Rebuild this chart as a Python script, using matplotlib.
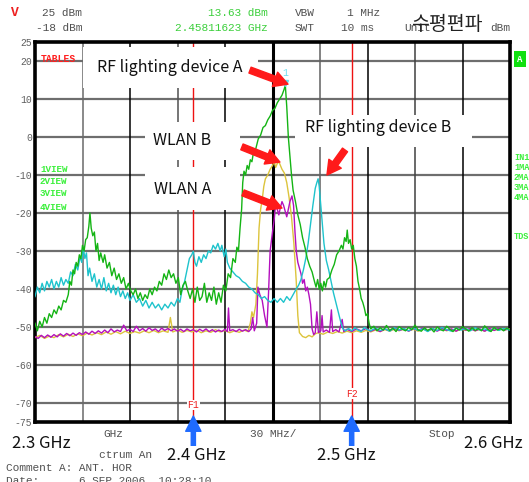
import matplotlib
matplotlib.use("Agg")
import matplotlib.pyplot as plt
from matplotlib.patches import Rectangle

plt.rcParams['font.family'] = ['Noto Sans CJK KR', 'DejaVu Sans']
plt.rcParams['axes.unicode_minus'] = False

# sweep 2.3 - 2.6 GHz (MHz), level in dBm
green = [(2300, -49), (2301.5, -51), (2303, -48.5), (2304.5, -50), (2306, -47.5), (2307.5, -49), (2309, -46.5),
         (2310.5, -47.5), (2312, -45.5), (2313.5, -46.5), (2315, -44.5), (2316.5, -45.5), (2318, -43), (2319.5, -43.5),
         (2321, -41.5), (2322, -38), (2323, -39), (2324, -35), (2325, -36), (2326, -33), (2327, -34), (2328, -31),
         (2329, -32), (2330, -28.5), (2331, -30), (2332, -27), (2333, -26.5), (2334, -23.5), (2334.7, -20),
         (2335.5, -24), (2336.5, -26), (2337.5, -25), (2338.5, -30), (2339.5, -28), (2340.5, -32.5), (2341.5, -30.5),
         (2343, -33), (2344, -31), (2345.5, -34.5), (2347, -33), (2348.5, -36.5), (2350, -34.5), (2351.5, -37.5),
         (2353, -36), (2354.5, -38.5), (2356, -37), (2357.5, -40), (2359, -38.5), (2360.5, -40.5), (2362, -41.5),
         (2363.5, -40), (2365, -42.5), (2366.5, -41), (2368, -43), (2369.5, -41.5), (2371, -42.5), (2372.5, -40),
         (2374, -41.5), (2375.5, -39.5), (2377, -40.5), (2378.5, -38), (2380, -39), (2381.5, -36), (2383, -37.5),
         (2384.5, -35), (2386, -37), (2387.5, -36), (2389, -38.5), (2390.5, -37), (2392, -41.5), (2393.5, -39),
         (2395, -38), (2396.5, -40.5), (2398, -42.5), (2399.5, -40), (2401, -43.5), (2402.5, -39.5), (2404, -43),
         (2405.5, -42), (2407, -38.5), (2408.5, -43.5), (2410, -41), (2411.5, -43), (2413, -39.5), (2414.5, -44),
         (2416, -41), (2417.5, -43.5), (2419, -39), (2420.5, -40.5), (2422, -36), (2423.5, -37), (2425, -32),
         (2426.5, -33), (2427.5, -29), (2428.5, -30), (2429.5, -24), (2430.5, -19), (2431.2, -12), (2432, -9),
         (2433, -10), (2434, -7.5), (2435, -8.5), (2436, -6), (2437, -6.5), (2438, -4), (2439.5, -3), (2441, -0.5),
         (2442.5, 0.5), (2444, 2.5), (2445.5, 3), (2447, 4.5), (2448.5, 5.5), (2450, 7), (2451.5, 7.5), (2453, 9),
         (2454.5, 10), (2456, 11), (2457.3, 12.5), (2458.1, 13.6), (2459, 8), (2460, 0), (2461, -5), (2462, -10),
         (2463, -14), (2464.5, -17), (2466, -20.5), (2467.5, -23), (2469, -26.5), (2470.5, -29), (2472, -32),
         (2473.5, -34), (2475, -35.5), (2476.5, -38), (2477.5, -39.5), (2478.5, -37.5), (2479.5, -40), (2480.5, -38.5),
         (2481.5, -40.5), (2482.5, -38), (2483.5, -39.5), (2484.5, -37.5), (2486, -37), (2487.5, -35), (2489, -33.5),
         (2490.5, -31), (2492, -30), (2493.5, -28.5), (2494.5, -29.5), (2495.5, -26.5), (2496.5, -27.5),
         (2497.2, -24.5), (2498, -28), (2499, -27), (2500, -29.5), (2501, -28.5), (2502, -32), (2503, -34),
         (2504, -38), (2505, -40), (2506, -42.5), (2507, -43.5), (2508, -45), (2509, -47), (2510, -46.5),
         (2511, -49), (2512, -50.5), (2514, -49.8), (2516, -51), (2518, -50.2), (2520, -50.8), (2522, -49.6),
         (2524, -50.9), (2526, -50.3), (2528, -51.2), (2530, -49.9), (2532, -50.6), (2534, -51), (2536, -50.1),
         (2538, -50.7), (2540, -49.5), (2542, -50.8), (2544, -51.1), (2546, -50.2), (2548, -50.9), (2550, -50.4),
         (2552, -51.3), (2554, -50), (2556, -50.7), (2558, -51), (2560, -49.8), (2562, -50.6), (2564, -51.2),
         (2566, -50.3), (2568, -50.8), (2570, -49.9), (2572, -50.5), (2574, -51.1), (2576, -50.2), (2578, -50.9),
         (2580, -50.4), (2582, -51), (2584, -49.7), (2586, -50.6), (2588, -51.2), (2590, -50.1), (2592, -50.8),
         (2594, -50.4), (2596, -51), (2598, -50.3), (2600, -50.7)]

cyan = [(2300, -42), (2301.5, -39.5), (2303, -41), (2304.5, -38.5), (2306, -40.5), (2307.5, -38), (2309, -39.5),
        (2310.5, -37.5), (2312, -40), (2313.5, -38), (2315, -39.5), (2316.5, -37), (2318, -39), (2319.5, -37.5),
        (2321, -38.5), (2322.5, -35.5), (2324, -36.5), (2325.5, -33.5), (2327, -35), (2328.5, -31.5), (2329.5, -33),
        (2330.5, -29), (2331.5, -32), (2332.5, -30.5), (2333.5, -36.5), (2334.5, -34.5), (2336, -38), (2337.5, -36),
        (2339, -39.5), (2340.5, -37.5), (2342, -40), (2343.5, -37), (2345, -40.5), (2346.5, -38.5), (2348, -41),
        (2349.5, -39), (2351, -41.5), (2352.5, -39.5), (2354, -42), (2355.5, -40.5), (2357, -42.5), (2358.5, -41),
        (2360, -43), (2362, -41.5), (2364, -43.5), (2366, -42.5), (2368, -44.5), (2370, -43), (2372, -45),
        (2374, -43.5), (2376, -45), (2378, -44), (2380, -45.5), (2382, -44), (2384, -45), (2386, -43.5),
        (2388, -44.5), (2390, -42.5), (2391.5, -43.5), (2393, -40), (2394.5, -38), (2396, -35), (2397.5, -32),
        (2399, -31), (2400, -30), (2401, -33), (2402, -34), (2403.5, -31.5), (2405, -33), (2406.5, -31), (2408, -32),
        (2409.5, -30), (2411, -30.5), (2412.5, -28.5), (2414, -29.5), (2415.5, -28), (2417, -30), (2418, -28.5),
        (2419.5, -31.5), (2420.5, -29.5), (2421.5, -33), (2423, -34.5), (2425, -35.5), (2427, -36.5), (2429, -37),
        (2431, -38), (2433, -38.5), (2435, -39.5), (2437, -40), (2439, -41), (2441, -41.5), (2443, -42.5),
        (2445, -42), (2447, -43), (2449, -43.5), (2451, -42.5), (2453, -43.5), (2455, -42.5), (2457, -43.5),
        (2459, -42), (2461, -43), (2463, -41.5), (2465, -40), (2466.5, -39), (2468, -37.5), (2469.5, -35),
        (2471, -32), (2472.5, -28), (2474, -23), (2475.5, -18), (2477, -13.5), (2478, -12), (2478.8, -11),
        (2479.5, -13), (2480.5, -18), (2481.5, -23), (2482.5, -28), (2484, -32.5), (2485.5, -35), (2487, -38),
        (2488.5, -41), (2490, -43.5), (2491.5, -46), (2493, -48.5), (2494.5, -50.5), (2496, -51), (2498, -50.4),
        (2500, -51), (2502, -50.2), (2504, -50.8), (2506, -51.2), (2508, -50.1), (2510, -50.7), (2512, -51),
        (2515, -50.3), (2518, -50.9), (2521, -50.5), (2524, -51.1), (2527, -50.2), (2530, -50.8), (2533, -50.4),
        (2536, -51), (2539, -50.3), (2542, -50.9), (2545, -50.5), (2548, -51.2), (2551, -50.4), (2554, -50.9),
        (2557, -50.1), (2560, -50.7), (2563, -51.1), (2566, -50.3), (2569, -50.8), (2572, -50.4), (2575, -51),
        (2578, -50.2), (2581, -50.8), (2584, -50.5), (2587, -51.1), (2590, -50.3), (2593, -50.9), (2596, -50.4),
        (2600, -50.8)]

yellow = [(2300, -52.8), (2303, -52.2), (2306, -53), (2309, -52.4), (2312, -52.8), (2315, -52), (2318, -52.6),
          (2321, -51.9), (2324, -52.5), (2327, -51.8), (2330, -52.3), (2333, -51.6), (2336, -52.1), (2339, -51.5),
          (2342, -52), (2345, -51.3), (2348, -51.9), (2351, -51.2), (2354, -51.8), (2357, -51.1), (2360, -51.7),
          (2363, -51.2), (2366, -51.6), (2369, -51), (2372, -51.5), (2375, -50.9), (2378, -51.5), (2381, -51),
          (2384, -51.4), (2385.5, -47.5), (2387, -51.3), (2390, -50.8), (2393, -51.4), (2396, -50.9), (2399, -51.3),
          (2402, -50.8), (2405, -51.5), (2408, -51), (2411, -51.4), (2414, -50.7), (2417, -51.3), (2420, -50.9),
          (2423, -51.5), (2426, -51), (2429, -51.4), (2432, -50.8), (2434.5, -51.2), (2436, -49), (2437, -46),
          (2438, -47.5), (2439.5, -44), (2440.5, -36), (2441.5, -24), (2442.5, -19), (2443.5, -16.5), (2444.5, -13),
          (2445.5, -11), (2447, -10), (2448.5, -8.5), (2450, -7.5), (2451, -6.5), (2452, -8), (2453, -7),
          (2454, -6.5), (2455, -7.5), (2456, -8.5), (2457.5, -9.5), (2459, -12), (2460.5, -16), (2462, -21),
          (2463.5, -28), (2465, -38), (2466, -47), (2467, -51.5), (2469, -52.5), (2471, -52.8), (2473, -52.2),
          (2475, -52.6), (2477, -51.8), (2479, -51.5), (2482, -51.9), (2485, -51.3), (2488, -51.7), (2491, -51.2),
          (2494, -51.6), (2497, -51.1), (2500, -51.5), (2503, -51), (2506, -51.4), (2509, -50.9), (2512, -51.3),
          (2515, -50.8), (2518, -51.2), (2521, -50.7), (2524, -51.1), (2527, -50.6), (2530, -51), (2533, -50.5),
          (2536, -51), (2539, -50.6), (2542, -51.1), (2545, -50.5), (2548, -51), (2551, -50.4), (2554, -50.9),
          (2557, -50.5), (2560, -51), (2563, -50.6), (2566, -51.1), (2569, -50.5), (2572, -50.9), (2575, -50.4),
          (2578, -51), (2581, -50.6), (2584, -51.1), (2587, -50.5), (2590, -50.9), (2593, -50.4), (2596, -50.8),
          (2600, -50.5)]

magenta = [(2300, -52.5), (2302, -53), (2304, -52.2), (2306, -52.8), (2308, -52.1), (2310, -52.7), (2312, -52),
           (2314, -52.6), (2316, -51.8), (2318, -52.4), (2320, -51.7), (2322, -52.3), (2324, -51.6), (2326, -52.2),
           (2328, -51.5), (2330, -52), (2332, -51.3), (2334, -51.9), (2336, -51.1), (2338, -51.7), (2340, -51),
           (2342, -51.6), (2344, -50.8), (2346, -51.5), (2348, -50.5), (2350, -51.3), (2352, -50.8), (2354, -51.2),
           (2356, -49.5), (2358, -51), (2360, -50.6), (2362, -51.2), (2364, -49.8), (2366, -51), (2368, -50.4),
           (2370, -51.1), (2372, -50.2), (2374, -50.9), (2376, -50.5), (2378, -51.2), (2380, -50.3), (2382, -50.9),
           (2384, -50.4), (2386, -51), (2388, -50.5), (2390, -51.1), (2392, -50.6), (2394, -51.2), (2396, -50.5),
           (2398, -51), (2400, -50.7), (2402, -51.3), (2404, -50.6), (2406, -51.1), (2408, -50.5), (2410, -51.2),
           (2412, -50.7), (2414, -51.3), (2416, -50.8), (2418, -51.2), (2420, -50.6), (2421.5, -51.2),
           (2422.2, -45), (2423, -51), (2425, -50.7), (2427, -51.2), (2429, -50.6), (2431, -51.1), (2433, -50.7),
           (2435, -51.2), (2436.5, -50.5), (2437.5, -47.5), (2438.5, -51), (2440, -49), (2440.8, -39.5),
           (2442, -41.5), (2443.5, -43), (2445, -47), (2446.5, -50), (2447.5, -41), (2448.5, -30), (2450, -25),
           (2451, -22), (2452, -17.5), (2453, -19), (2454, -20.5), (2455, -18.5), (2456, -17), (2457, -18),
           (2458, -19.5), (2459, -21), (2460, -19), (2461, -17), (2462.3, -15.5), (2463.3, -18), (2464.2, -25),
           (2465, -30), (2466, -33), (2467, -34.5), (2468, -36), (2469, -38.5), (2470, -37.5), (2471, -40.5),
           (2472, -39.5), (2473, -41.5), (2474, -44), (2475, -50.5), (2476, -52), (2477, -51.5), (2478, -46),
           (2479, -51.5), (2480.5, -51), (2481.3, -47), (2482, -51.3), (2484, -50.8), (2486, -51.4), (2487.2, -45.5),
           (2488, -51.2), (2490, -50.7), (2492, -51.3), (2494, -48), (2495, -51.2), (2497, -50.6), (2500, -51.2),
           (2503, -50.5), (2506, -51), (2509, -50.4), (2512, -51.1), (2515, -50.6), (2518, -51.2), (2521, -50.5),
           (2524, -51), (2527, -50.3), (2530, -50.9), (2533, -50.5), (2536, -51.1), (2539, -50.4), (2542, -50.9),
           (2545, -50.3), (2548, -51), (2551, -50.5), (2554, -51.1), (2557, -50.4), (2560, -50.9), (2563, -50.5),
           (2566, -51.1), (2569, -50.3), (2572, -50.8), (2575, -50.4), (2578, -51), (2581, -50.5), (2584, -51.1),
           (2587, -50.4), (2590, -50.9), (2593, -50.3), (2596, -50.8), (2600, -50.5)]

traces = [(yellow, '#dcc43c'), (magenta, '#b40fbe'), (cyan, '#1ec3cc'), (green, '#14b414')]

peak = (2458.1, 13.6)
markers_f = [2400, 2500]
marker_names = ['F1', 'F2']
marker_label_db = [-70.5, -67.6]
ytick_vals = [25, 20, 10, 0, -10, -20, -30, -40, -50, -60, -70, -75]
hgrid = [20, 10, 0, -10, -20, -30, -40, -50, -60, -70]
vgrid = [2330, 2360, 2390, 2420, 2450, 2480, 2510, 2540, 2570]
vgrid_col = ['#6a6a6a', 'black', '#505050', 'black', 'black', '#606060', 'black', '#404040', 'black']

# (text, x, y) for the callouts, arrow (tail -> head) in data units
callouts = [("RF lighting device A", 2385.0, 18.2, (2435.8, 17.6), (2459.8, 13.9)),
            ("WLAN B", 2393.0, -0.8, (2430.7, -2.6), (2454.7, -6.6)),
            ("WLAN A", 2393.0, -13.9, (2431.4, -14.7), (2456.0, -18.7)),
            ("RF lighting device B", 2517.0, 2.4, (2495.8, -3.4), (2484.4, -10.0))]

W, H = 529, 482
fig = plt.figure(figsize=(W / 100, H / 100), dpi=100)
ax = fig.add_axes([35 / W, 1 - 422 / H, 475 / W, 380 / H])
ax.set_xlim(2300, 2600)
ax.set_ylim(-75, 25)


def fx(px):
    return px / W


def fy(py):
    return 1 - py / H


mono = 'Liberation Mono'

for v in hgrid:
    ax.axhline(v, color='#6e6e6e', lw=1.6, zorder=1)
for v, c in zip(vgrid, vgrid_col):
    ax.axvline(v, color=c, lw=2.2 if v == 2450 else 1.1, zorder=1)
for f in markers_f:
    ax.axvline(f, color='#ee1111', lw=1, zorder=2)

for data, col in traces:
    ax.plot([p[0] for p in data], [p[1] for p in data], color=col, lw=1.0, zorder=3)

ax.plot([peak[0]], [peak[1] + 0.6], marker='v', ms=5, color='#5fe0f0', zorder=4)
ax.annotate('1', xy=peak, xytext=(0, 9), textcoords='offset points', ha='center', va='center',
            color='#6fe0f0', fontsize=7, family=mono)

for f, name, yv in zip(markers_f, marker_names, marker_label_db):
    ax.text(f, yv, name, ha='center', va='center', color='#ee2222', fontsize=7, family=mono,
            bbox=dict(facecolor='white', edgecolor='none', pad=0.3), zorder=4)

ax.set_xticks([])
ax.set_yticks(ytick_vals)
ax.set_yticklabels([str(v) for v in ytick_vals], family=mono)
ax.tick_params(axis='y', length=0, pad=2, labelsize=7, labelcolor='#606060')
for s in ax.spines.values():
    s.set_linewidth(2.6)
    s.set_color('black')

# white label boxes (axes fraction)
boxes = [(0.101, 0.879, 0.368, 0.108), (0.232, 0.689, 0.200, 0.100),
         (0.232, 0.558, 0.200, 0.113), (0.547, 0.724, 0.373, 0.084)]
for x0, y0, w, h in boxes:
    ax.add_patch(Rectangle((x0, y0), w, h, transform=ax.transAxes, facecolor='white',
                           edgecolor='none', zorder=5))

for text, tx, ty, tail, head in callouts:
    ax.text(tx, ty, text, ha='center', va='center', fontsize=11.5, color='#111111', zorder=6)
    ax.annotate('', xy=head, xytext=tail, zorder=7, annotation_clip=False,
                arrowprops=dict(facecolor='#ff1a1a', edgecolor='#ff1a1a', width=4.5,
                                headwidth=11, headlength=10, shrink=0))

# instrument side labels
ax.text(0.012, 0.955, 'TABLES', transform=ax.transAxes, color='#ff2020', fontsize=7, family=mono,
        fontweight='bold', va='center', zorder=4)
for i, lbl in enumerate(['1VIEW', '2VIEW', '3VIEW', '4VIEW']):
    fig.text(fx(40), fy([169, 182, 194, 207][i]), lbl, color='#3cf03c', fontsize=6.7, family=mono,
             fontweight='bold', va='center')
for lbl, py in zip(['IN1', '1MA', '2MA', '3MA', '4MA', 'TDS'], [157, 167, 177, 187, 197, 236]):
    fig.text(fx(514), fy(py), lbl, color='#3cf03c', fontsize=6.2, family=mono, fontweight='bold', va='center')
fig.text(fx(520), fy(59), 'A', color='white', fontsize=6.5, family=mono, fontweight='bold',
         ha='center', va='center', bbox=dict(facecolor='#10e010', edgecolor='none', pad=2.5))

# header
gray = '#505050'
fig.text(fx(10), fy(12), 'V', color='#ee2020', fontsize=9, fontweight='bold', va='center')
fig.text(fx(82), fy(13), '25 dBm', color=gray, fontsize=8, family=mono, ha='right', va='center')
fig.text(fx(82), fy(28), '-18 dBm', color=gray, fontsize=8, family=mono, ha='right', va='center')
fig.text(fx(268), fy(13), '13.63 dBm', color='#3ccf3c', fontsize=8, family=mono, ha='right', va='center')
fig.text(fx(268), fy(28), '2.45811623 GHz', color='#3ccf3c', fontsize=8, family=mono, ha='right', va='center')
fig.text(fx(295), fy(13), 'VBW', color=gray, fontsize=8, family=mono, va='center')
fig.text(fx(295), fy(28), 'SWT', color=gray, fontsize=8, family=mono, va='center')
fig.text(fx(380), fy(13), '1 MHz', color=gray, fontsize=8, family=mono, ha='right', va='center')
fig.text(fx(374), fy(28), '10 ms', color=gray, fontsize=8, family=mono, ha='right', va='center')
fig.text(fx(404), fy(28), 'Unit', color=gray, fontsize=8, family=mono, va='center')
fig.text(fx(490), fy(28), 'dBm', color=gray, fontsize=8, family=mono, va='center')
fig.text(fx(447), fy(24), '수평편파', color='#222222', fontsize=14, ha='center', va='center')

# footer
fig.text(fx(103), fy(434), 'GHz', color=gray, fontsize=8, family=mono, va='center')
fig.text(fx(250), fy(434), '30 MHz/', color=gray, fontsize=8, family=mono, va='center')
fig.text(fx(429), fy(434), 'Stop', color=gray, fontsize=8, family=mono, va='center')
fig.text(fx(99), fy(455), 'ctrum An', color=gray, fontsize=8, family=mono, va='center')
fig.text(fx(6), fy(468), 'Comment A: ANT. HOR', color=gray, fontsize=8, family=mono, va='center')
fig.text(fx(6), fy(481), 'Date:      6.SEP.2006  10:28:10', color=gray, fontsize=8, family=mono, va='center')

for lbl, px, py in [('2.3 GHz', 41, 443), ('2.6 GHz', 493, 443)]:
    fig.text(fx(px), fy(py), lbl, fontsize=12, color='#111111', ha='center', va='center')
for lbl, f, px in [('2.4 GHz', 2400, 196), ('2.5 GHz', 2500, 346)]:
    fig.text(fx(px), fy(455), lbl, fontsize=12, color='#111111', ha='center', va='center',
             bbox=dict(facecolor='white', edgecolor='none', pad=0.5))
    ax.annotate('', xy=(f, (422 - 416) / 380), xytext=(f, (422 - 446) / 380),
                xycoords=('data', 'axes fraction'), textcoords=('data', 'axes fraction'),
                annotation_clip=False,
                arrowprops=dict(facecolor='#1f6bff', edgecolor='#1f6bff', width=3,
                                headwidth=11, headlength=11, shrink=0))

fig.savefig('out.png', dpi=100)
